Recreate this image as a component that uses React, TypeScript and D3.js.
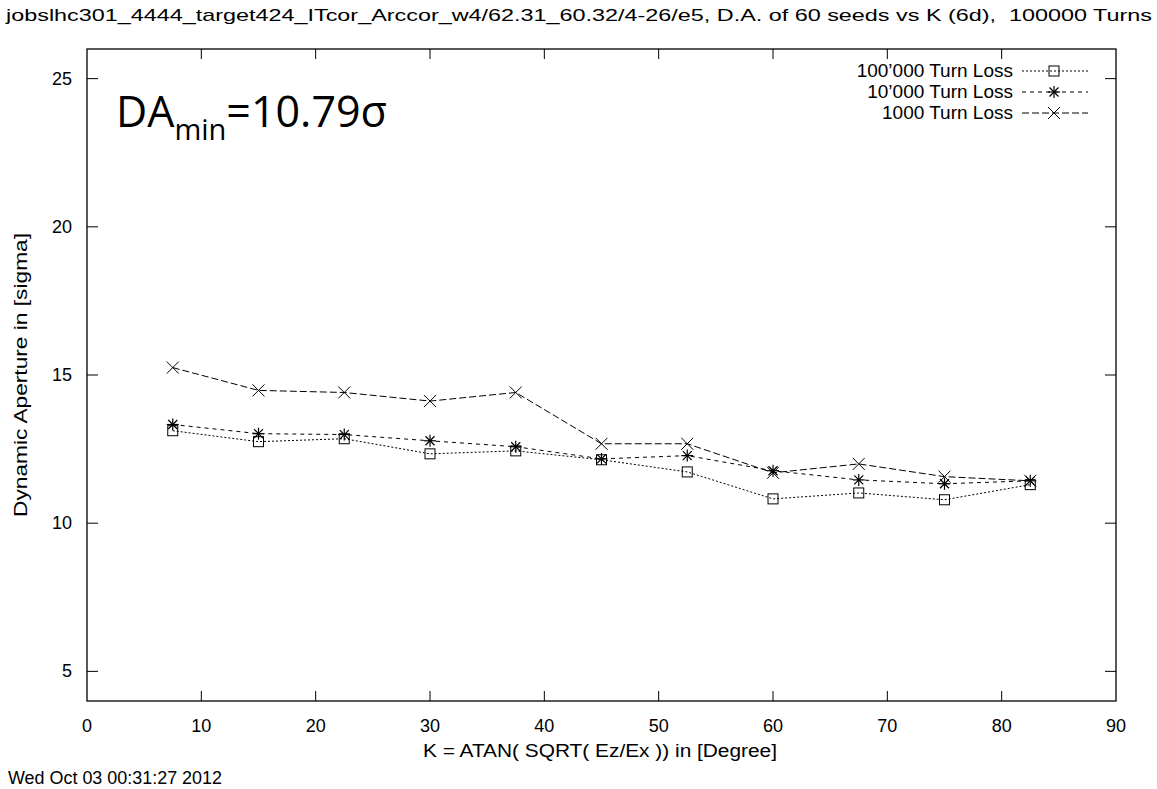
import React from "react";
import * as d3 from "d3";

const kValues = [7.5, 15, 22.5, 30, 37.5, 45, 52.5, 60, 67.5, 75, 82.5];
const loss100k = [13.12, 12.75, 12.85, 12.34, 12.44, 12.14, 11.73, 10.82, 11.02, 10.79, 11.3];
const loss10k = [13.33, 13.02, 12.99, 12.78, 12.58, 12.17, 12.28, 11.77, 11.46, 11.33, 11.43];
const loss1k = [15.25, 14.48, 14.41, 14.12, 14.41, 12.68, 12.68, 11.7, 12.0, 11.57, 11.43];
const xTicks = [0, 10, 20, 30, 40, 50, 60, 70, 80, 90];
const yTicks = [5, 10, 15, 20, 25];
const seriesNames = ["100\u2019000 Turn Loss", "10\u2019000 Turn Loss", "1000 Turn Loss"];

const W = 1157, H = 789;
const L = 87, R = 1116, T = 49, B = 701;
const FONT = "'Liberation Sans', Arial, sans-serif";

function Marker({ kind, x, y }: { kind: string; x: number; y: number }) {
  const s = "#000";
  if (kind === "square") {
    return <rect x={x - 5} y={y - 5} width={10} height={10} fill="none" stroke={s} strokeWidth={1} />;
  }
  if (kind === "star") {
    const r = 6;
    return (
      <g stroke={s} strokeWidth={1.2}>
        <line x1={x - r} y1={y} x2={x + r} y2={y} />
        <line x1={x} y1={y - r} x2={x} y2={y + r} />
        <line x1={x - r * 0.75} y1={y - r * 0.75} x2={x + r * 0.75} y2={y + r * 0.75} />
        <line x1={x - r * 0.75} y1={y + r * 0.75} x2={x + r * 0.75} y2={y - r * 0.75} />
      </g>
    );
  }
  const r = 6;
  return (
    <g stroke={s} strokeWidth={1}>
      <line x1={x - r} y1={y - r} x2={x + r} y2={y + r} />
      <line x1={x - r} y1={y + r} x2={x + r} y2={y - r} />
    </g>
  );
}

export default function App() {
  const x = d3.scaleLinear().domain([0, 90]).range([L, R]);
  const y = d3.scaleLinear().domain([4, 26]).range([B, T]);
  const line = d3
    .line<number>()
    .x((_, i) => x(kValues[i]))
    .y((d) => y(d));

  const series = [
    { vals: loss100k, dash: "2,2", kind: "square" },
    { vals: loss10k, dash: "4,4", kind: "star" },
    { vals: loss1k, dash: "7,3", kind: "cross" },
  ];

  return (
    <svg width={W} height={H} style={{ position: "absolute", left: 0, top: 0, background: "#fff" }}>
      <rect x={0} y={0} width={W} height={H} fill="#fff" />
      <text x={6} y={21} fontFamily={FONT} fontSize={17} fill="#000" textLength={1146} lengthAdjust="spacingAndGlyphs">
        jobslhc301_4444_target424_ITcor_Arccor_w4/62.31_60.32/4-26/e5, D.A. of 60 seeds vs K (6d),{"\u00a0\u00a0"}100000 Turns
      </text>

      <rect x={L} y={T} width={R - L} height={B - T} fill="none" stroke="#000" strokeWidth={1.3} />

      {xTicks.map((t) => (
        <g key={"x" + t}>
          {t > 0 && t < 90 && (
            <>
              <line x1={x(t)} x2={x(t)} y1={B} y2={B - 10} stroke="#000" />
              <line x1={x(t)} x2={x(t)} y1={T} y2={T + 10} stroke="#000" />
            </>
          )}
          <text x={x(t)} y={732} textAnchor="middle" fontFamily={FONT} fontSize={18} fill="#000">
            {t}
          </text>
        </g>
      ))}
      {yTicks.map((t) => (
        <g key={"y" + t}>
          <line x1={L} x2={L + 11} y1={y(t)} y2={y(t)} stroke="#000" />
          <line x1={R} x2={R - 11} y1={y(t)} y2={y(t)} stroke="#000" />
          <text x={72} y={y(t) + 6} textAnchor="end" fontFamily={FONT} fontSize={18} fill="#000">
            {t}
          </text>
        </g>
      ))}

      <text
        transform={`translate(27, 375) rotate(-90)`}
        textAnchor="middle"
        fontFamily={FONT}
        fontSize={18}
        fill="#000"
        textLength={284}
        lengthAdjust="spacingAndGlyphs"
      >
        Dynamic Aperture in [sigma]
      </text>
      <text x={600} y={757} textAnchor="middle" fontFamily={FONT} fontSize={18} fill="#000" textLength={354} lengthAdjust="spacingAndGlyphs">
        K = ATAN( SQRT( Ez/Ex )) in [Degree]
      </text>
      <text x={8} y={784} fontFamily={FONT} fontSize={18} fill="#000" textLength={214} lengthAdjust="spacingAndGlyphs">
        Wed Oct 03 00:31:27 2012
      </text>

      <text x={116} y={127} fontFamily="'Open Sans', 'Noto Sans', sans-serif" fontSize={43} fill="#000">
        DA<tspan dy={13} fontSize={29}>min</tspan>
        <tspan dy={-13}>=10.79σ</tspan>
      </text>

      {series.map((s, si) => (
        <g key={"s" + si}>
          <path d={line(s.vals) || ""} fill="none" stroke="#000" strokeWidth={1} strokeDasharray={s.dash} />
          {s.vals.map((v, i) => (
            <Marker key={i} kind={s.kind} x={x(kValues[i])} y={y(v)} />
          ))}
        </g>
      ))}

      {series.map((s, si) => {
        const ly = 71 + si * 21;
        return (
          <g key={"l" + si}>
            <text x={1013} y={ly + 6} textAnchor="end" fontFamily={FONT} fontSize={19} fill="#000">
              {seriesNames[si]}
            </text>
            <line x1={1022} x2={1088} y1={ly} y2={ly} stroke="#000" strokeWidth={1} strokeDasharray={s.dash} />
            <Marker kind={s.kind} x={1054} y={ly} />
          </g>
        );
      })}
    </svg>
  );
}
